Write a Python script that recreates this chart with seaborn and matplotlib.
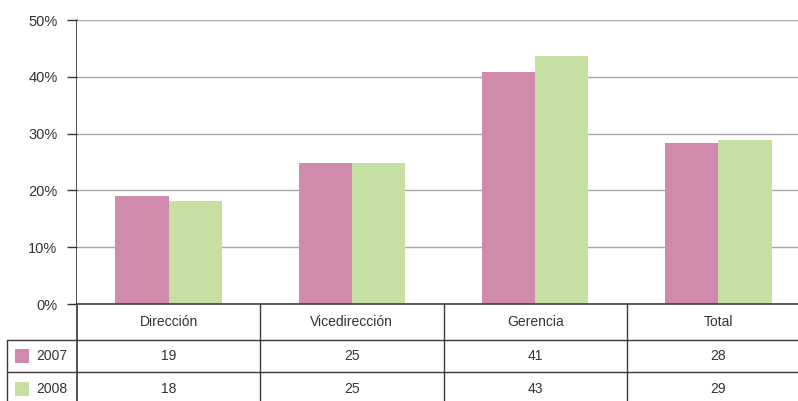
import matplotlib
matplotlib.use("Agg")
import matplotlib.pyplot as plt
import matplotlib.transforms as mtransforms
from matplotlib.patches import Rectangle
from matplotlib.ticker import FuncFormatter
import seaborn as sns
import pandas as pd

categories = ["Dirección", "Vicedirección", "Gerencia", "Total"]
years = ["2007", "2008"]
values_2007 = [19.0, 24.9, 40.9, 28.4]
values_2008 = [18.2, 24.9, 43.6, 28.9]
table_2007 = ["19", "25", "41", "28"]
table_2008 = ["18", "25", "43", "29"]
yticks = [0, 10, 20, 30, 40, 50]

pink = "#D08BAC"
green = "#C6DFA2"
txt = "#333333"
fs = 10

df = pd.DataFrame({
    "cat": categories * 2,
    "year": [years[0]] * 4 + [years[1]] * 4,
    "val": values_2007 + values_2008,
})

sns.set_style("white")
plt.rcParams["font.family"] = ["Liberation Sans", "DejaVu Sans"]

W, H = 798, 401
fig = plt.figure(figsize=(W / 100, H / 100), dpi=100)

# main axes (pixel layout: left 77, right ~810, top 20, bottom 304)
ax = fig.add_axes([77 / W, (H - 304) / H, 733 / W, 284 / H])
sns.barplot(data=df, x="cat", y="val", hue="year", palette=[pink, green],
            width=0.58, saturation=1, errorbar=None, legend=False, ax=ax,
            linewidth=0)
ax.set_xlim(-0.5, 3.5)
ax.set_ylim(0, 50)
ax.set_yticks(yticks)
ax.yaxis.set_major_formatter(FuncFormatter(lambda v, p: f"{int(v)}%"))
ax.set_xticks([])
ax.set_xlabel("")
ax.set_ylabel("")
ax.yaxis.grid(True, color="#a8a8a8", linewidth=1.0)
ax.set_axisbelow(True)
ax.tick_params(axis="y", direction="out", length=7, width=1, color="#333333",
               labelsize=fs + 0.5, labelcolor=txt, pad=7, left=True)
for s in ["top", "right"]:
    ax.spines[s].set_visible(False)
ax.spines["left"].set_visible(False)
ax.spines["bottom"].set_color("#404040")
ax.spines["bottom"].set_linewidth(1.2)
ax.axhline(50, color="#777777", linewidth=1.2, zorder=0.5)

# overlay axes in pixel coords for the data table
tax = fig.add_axes([0, 0, 1, 1], zorder=-1)
tax.set_xlim(0, W)
tax.set_ylim(H, 0)
tax.axis("off")
blend = mtransforms.blended_transform_factory(ax.transData, tax.transData)

lc = "#3a3a3a"
# left spine through table
tax.plot([-0.5, -0.5], [20, H], transform=blend, color="#222222", lw=1.1)
# column separators
for i in range(len(categories) - 1):
    tax.plot([i + 0.5, i + 0.5], [304, H], transform=blend, color=lc, lw=1)
# row separators
for yy in [340, 372]:
    tax.plot([7, 820], [yy, yy], color=lc, lw=1)
tax.plot([7, 7], [340, H], color=lc, lw=1)

# header and values
for i, c in enumerate(categories):
    tax.text(i, 322, c, transform=blend, ha="center", va="center",
             fontsize=fs, color=txt)
    tax.text(i, 356, table_2007[i], transform=blend, ha="center",
             va="center", fontsize=fs, color=txt)
    tax.text(i, 389, table_2008[i], transform=blend, ha="center",
             va="center", fontsize=fs, color=txt)

# legend cells
for yc, col, lab in [(356, pink, years[0]), (389, green, years[1])]:
    tax.add_patch(Rectangle((15, yc - 7), 14, 14, facecolor=col,
                            edgecolor="none"))
    tax.text(36, yc, lab, ha="left", va="center", fontsize=fs, color=txt)

fig.savefig("out.png", dpi=100)
